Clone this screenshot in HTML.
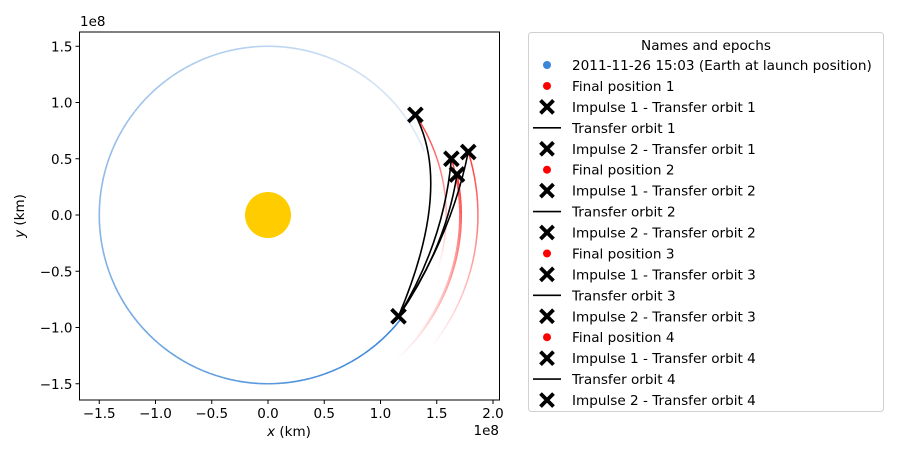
<!DOCTYPE html>
<html><head><meta charset="utf-8"><style>
body{margin:0;background:#fff;}
svg text{font-family:"DejaVu Sans","Liberation Sans",sans-serif;}
</style></head><body>
<svg id="chart" width="903" height="453" xmlns="http://www.w3.org/2000/svg" style="position:absolute;left:0;top:0">
<g id="plot"></g>
<g id="axes"></g>
<g id="legend"></g>
<text x="289" y="436" font-size="13.5" text-anchor="middle"><tspan font-style="italic">x</tspan> (km)</text>
<text x="499" y="435" font-size="13.5" text-anchor="end">1e8</text>
<text x="80" y="26" font-size="13.5">1e8</text>
<text transform="translate(24,216) rotate(-90)" font-size="13.5" text-anchor="middle"><tspan font-style="italic">y</tspan> (km)</text>
</svg>
<script>
// data (units of 1e6 km)
const xTicks=[-1.5,-1.0,-0.5,0.0,0.5,1.0,1.5,2.0];
const yTicks=[-1.5,-1.0,-0.5,0.0,0.5,1.0,1.5];
const launchPoint=[116,-90];
const earthRadius=150;
const earthTrailSpanDeg=300;
const arrivalX=[131,163,168,178];
const arrivalY=[89,50,36,56];
const bulgeX=[144,148,150,155];
const bulgeY=[12,-22,-28,-18];
const targetTrailSpanDeg=[52,56,60,56];
const legendLabels=["2011-11-26 15:03 (Earth at launch position)","Final position 1","Impulse 1 - Transfer orbit 1","Transfer orbit 1","Impulse 2 - Transfer orbit 1","Final position 2","Impulse 1 - Transfer orbit 2","Transfer orbit 2","Impulse 2 - Transfer orbit 2","Final position 3","Impulse 1 - Transfer orbit 3","Transfer orbit 3","Impulse 2 - Transfer orbit 3","Final position 4","Impulse 1 - Transfer orbit 4","Transfer orbit 4","Impulse 2 - Transfer orbit 4"];
const legendKinds=["blue","red","x","line","x","red","x","line","x","red","x","line","x","red","x","line","x"];

const NS="http://www.w3.org/2000/svg";
const X0=268,Y0=215,S=1.125; // px per 1e6 km
const L=79.5,R=499.5,T=32,B=400;
const sx=v=>X0+v*S, sy=v=>Y0-v*S;
function el(tag,attrs,parent){const e=document.createElementNS(NS,tag);for(const k in attrs)e.setAttribute(k,attrs[k]);parent.appendChild(e);return e;}
const plot=document.getElementById('plot'),axes=document.getElementById('axes'),leg=document.getElementById('legend');

const defs=el('defs',{},plot);
const cp=el('clipPath',{id:'clip'},defs);el('rect',{x:L,y:T,width:R-L,height:B-T},cp);
const g=el('g',{'clip-path':'url(#clip)'},plot);

function lerp(a,b,t){return a+(b-a)*t;}
const a0=Math.atan2(launchPoint[1],launchPoint[0]);
const N=120;
for(let i=0;i<N;i++){
  const t1=i/N,t2=(i+1)/N;
  const th1=a0-t1*earthTrailSpanDeg*Math.PI/180, th2=a0-t2*earthTrailSpanDeg*Math.PI/180;
  const c=[Math.round(lerp(58,225,t1)),Math.round(lerp(134,235,t1)),Math.round(lerp(216,248,t1))];
  const p=el('line',{x1:sx(earthRadius*Math.cos(th1)),y1:sy(earthRadius*Math.sin(th1)),x2:sx(earthRadius*Math.cos(th2)),y2:sy(earthRadius*Math.sin(th2)),stroke:`rgb(${c})`,'stroke-width':1.6},g);
  
  
}
for(let k=0;k<arrivalX.length;k++){
  const r=Math.hypot(arrivalX[k],arrivalY[k]),th0=Math.atan2(arrivalY[k],arrivalX[k]);
  const M=40;
  for(let i=0;i<M;i++){
    const t1=i/M,t2=(i+1)/M;
    const th1=th0-t1*targetTrailSpanDeg[k]*Math.PI/180,th2=th0-t2*targetTrailSpanDeg[k]*Math.PI/180;
    const p=el('line',{x1:sx(r*Math.cos(th1)),y1:sy(r*Math.sin(th1)),x2:sx(r*Math.cos(th2)),y2:sy(r*Math.sin(th2)),stroke:'#ff2020','stroke-opacity':(0.9*(1-t1)).toFixed(3),'stroke-width':1.5},g);
    
    
  }
}
const sun=el('circle',{cx:sx(0),cy:sy(0),r:23,fill:'#ffcc00'},g);


for(let k=0;k<arrivalX.length;k++){
  const cx=2*bulgeX[k]-(launchPoint[0]+arrivalX[k])/2, cy=2*bulgeY[k]-(launchPoint[1]+arrivalY[k])/2;
  const p=el('path',{d:`M${sx(launchPoint[0])},${sy(launchPoint[1])} Q${sx(cx)},${sy(cy)} ${sx(arrivalX[k])},${sy(arrivalY[k])}`,fill:'none',stroke:'#000','stroke-width':1.6},g);
  
  
}
function drawX(x,y,s,parent){
  const gg=el('g',{stroke:'#000','stroke-width':3.8},parent);
  el('line',{x1:x-s,y1:y-s,x2:x+s,y2:y+s},gg);el('line',{x1:x-s,y1:y+s,x2:x+s,y2:y-s},gg);return gg;
}
const lx=drawX(sx(launchPoint[0]),sy(launchPoint[1]),7,g);


for(let k=0;k<arrivalX.length;k++){
  const m=drawX(sx(arrivalX[k]),sy(arrivalY[k]),7,g);
  
  
}
el('rect',{x:L,y:T,width:R-L,height:B-T,fill:'none',stroke:'#000','stroke-width':1},axes);
xTicks.forEach(v=>{const x=sx(v*100);el('line',{x1:x,y1:B,x2:x,y2:B+4,stroke:'#000'},axes);
  const t=el('text',{x:x,y:B+18,'font-size':13.5,'text-anchor':'middle'},axes);t.textContent=v.toFixed(1).replace('-','\u2212');
  });
yTicks.forEach(v=>{const y=sy(v*100);el('line',{x1:L-4,y1:y,x2:L,y2:y,stroke:'#000'},axes);
  const t=el('text',{x:L-7,y:y+5,'font-size':13.5,'text-anchor':'end'},axes);t.textContent=v.toFixed(1).replace('-','\u2212');
  });

const box=el('rect',{x:528.5,y:32.5,width:355,height:379,rx:3,fill:'#fff',stroke:'#d0d0d0'},leg);


const title=el('text',{x:706,y:50,'font-size':13.6,'text-anchor':'middle'},leg);title.textContent='Names and epochs';


legendLabels.forEach((lab,i)=>{
  const y=65+i*20.94;
  const gl=el('g',{},leg);
  
  
  const k=legendKinds[i];
  if(k==='blue')el('circle',{cx:547,cy:y,r:4,fill:'#3a86d8'},gl);
  else if(k==='red')el('circle',{cx:547,cy:y,r:4,fill:'#ff0000'},gl);
  else if(k==='line')el('line',{x1:533,y1:y,x2:561,y2:y,stroke:'#000','stroke-width':1.6},gl);
  else{const gg=el('g',{stroke:'#000','stroke-width':3.8},gl);el('line',{x1:540.5,y1:y-6.5,x2:553.5,y2:y+6.5},gg);el('line',{x1:540.5,y1:y+6.5,x2:553.5,y2:y-6.5},gg);}
  const t=el('text',{x:572,y:y+5,'font-size':13.6},gl);t.textContent=lab;
});
</script>
</body></html>
